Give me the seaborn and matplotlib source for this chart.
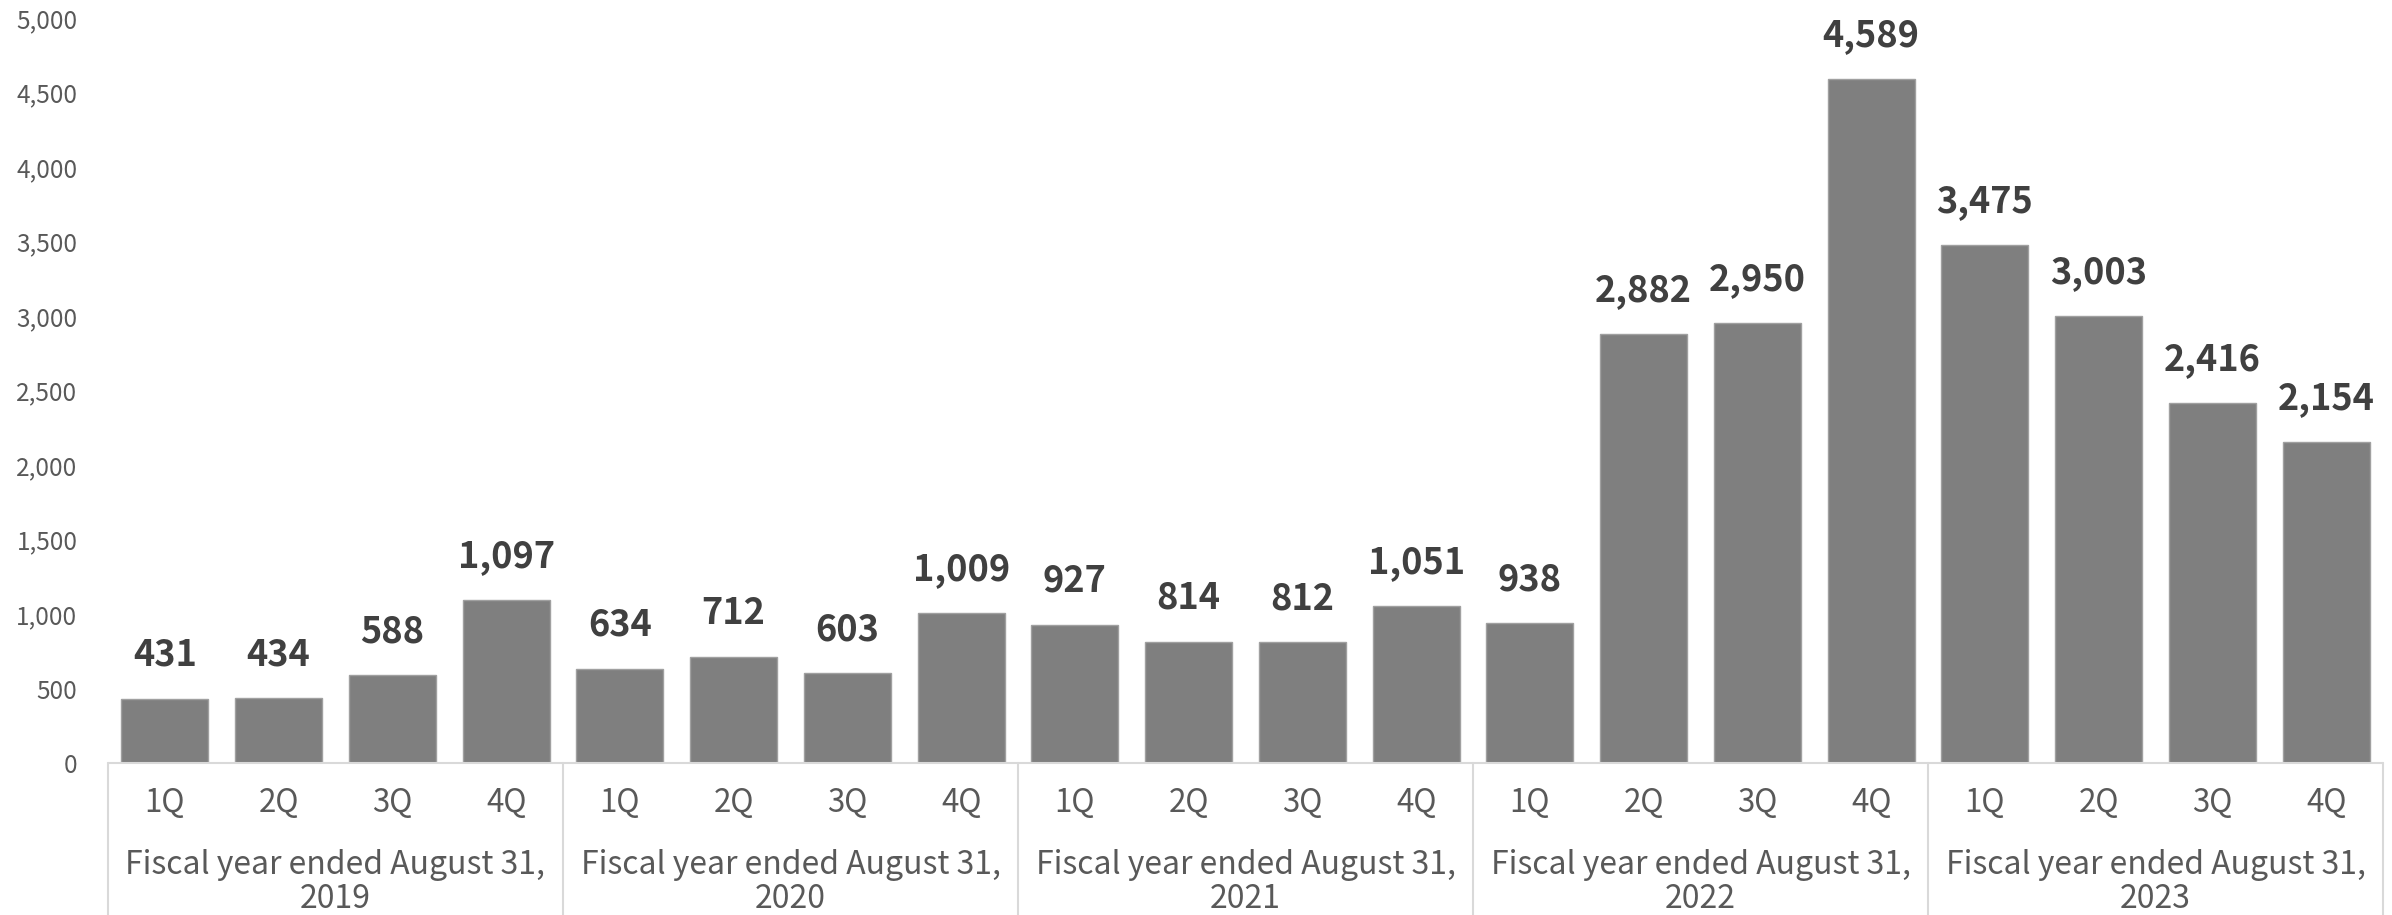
import matplotlib
matplotlib.use("Agg")
import matplotlib.pyplot as plt
import matplotlib.transforms as mtransforms
import pandas as pd
import seaborn as sns

# Quarterly values by fiscal year
fiscal_years = ["2019", "2020", "2021", "2022", "2023"]
quarters = ["1Q", "2Q", "3Q", "4Q"]
values_2019 = [431, 434, 588, 1097]
values_2020 = [634, 712, 603, 1009]
values_2021 = [927, 814, 812, 1051]
values_2022 = [938, 2882, 2950, 4589]
values_2023 = [3475, 3003, 2416, 2154]
y_ticks = [0, 500, 1000, 1500, 2000, 2500, 3000, 3500, 4000, 4500, 5000]

all_values = [values_2019, values_2020, values_2021, values_2022, values_2023]
rows = []
for fy, vals in zip(fiscal_years, all_values):
    for q, v in zip(quarters, vals):
        rows.append({"period": f"FY{fy} {q}", "year": fy, "quarter": q, "value": v})
df = pd.DataFrame(rows)

sns.set_theme(style="white")
plt.rcParams["font.family"] = ["Noto Sans CJK JP", "DejaVu Sans"]

text_gray = "#595959"
label_dark = "#404040"
line_gray = "#d9d9d9"

fig = plt.figure(figsize=(23.92, 9.15), dpi=100)
ax = fig.add_axes([0.04515, 0.1661, 0.99624 - 0.04515, 0.9803 - 0.1661])

sns.barplot(data=df, x="period", y="value", order=list(df["period"]),
            color="#7f7f7f", saturation=1, width=0.765,
            edgecolor="#a0a0a0", linewidth=1, ax=ax)

ax.set_ylim(0, 5000)
ax.set_xlim(-0.5, len(df) - 0.5)
ax.set_yticks(y_ticks)
ax.set_yticklabels([f"{t:,}" for t in y_ticks], fontsize=17.5, color=text_gray)
ax.tick_params(axis="y", length=0, pad=22)
ax.tick_params(axis="x", length=0, pad=0)
ax.set_xticks([])
ax.set_xlabel("")
ax.set_ylabel("")
for s in ax.spines.values():
    s.set_visible(False)

# Value labels above bars
for cont in ax.containers:
    ax.bar_label(cont, labels=[f"{v:,.0f}" for v in df["value"]],
                 padding=18, fontsize=26, fontweight="bold", color=label_dark)

# Category frame beneath the axis
trans = mtransforms.blended_transform_factory(ax.transData, ax.transAxes)
n = len(df)
ax.plot([-0.5, n - 0.5], [0, 0], transform=trans, color=line_gray,
        lw=1.5, clip_on=False)
for b in range(len(fiscal_years) + 1):
    xb = -0.5 + 4 * b
    ax.plot([xb, xb], [0, -0.25], transform=trans, color=line_gray,
            lw=1.5, clip_on=False)

# Quarter labels and fiscal-year group labels
for i, q in enumerate(df["quarter"]):
    ax.text(i, -0.053, q, transform=trans, ha="center", va="center",
            fontsize=22.5, color=text_gray)
for g, fy in enumerate(fiscal_years):
    xc = 4 * g + 1.5
    ax.text(xc, -0.137, "Fiscal year ended August 31,", transform=trans,
            ha="center", va="center", fontsize=23, color=text_gray)
    ax.text(xc, -0.183, fy, transform=trans, ha="center", va="center",
            fontsize=23, color=text_gray)

fig.savefig("out.png", dpi=100)
